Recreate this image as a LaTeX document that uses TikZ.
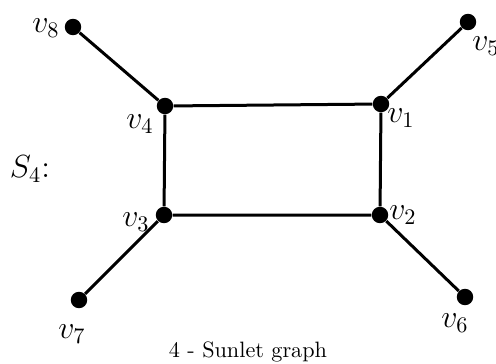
\documentclass[tikz,border=0pt]{standalone}
\begin{document}
\begin{tikzpicture}[x=0.45pt,y=-0.45pt,
  vtx/.style={circle,fill=black,inner sep=0pt,minimum size=7.4pt},
  lbl/.style={inner sep=0pt,font=\Large},
  edge/.style={line width=1.35pt}]
\useasboundingbox (0,0) rectangle (496,363);
\node[vtx] (v1) at (381,104) {};
\node[vtx] (v2) at (380,215) {};
\node[vtx] (v3) at (164,215) {};
\node[vtx] (v4) at (165,106) {};
\node[vtx] (v5) at (468,22) {};
\node[vtx] (v6) at (465,297) {};
\node[vtx] (v7) at (79,300) {};
\node[vtx] (v8) at (73,27) {};
\draw[edge] (v1) -- (v2) -- (v3) -- (v4) -- (v1);
\draw[edge] (v1) -- (v5);
\draw[edge] (v2) -- (v6);
\draw[edge] (v3) -- (v7);
\draw[edge] (v4) -- (v8);
\node[lbl] (l1) at (401,118) {$v_1$};
\node[lbl] (l2) at (403,215) {$v_2$};
\node[lbl] (l3) at (136,222) {$v_3$};
\node[lbl] (l4) at (140,124) {$v_4$};
\node[lbl] (l5) at (486,46) {$v_5$};
\node[lbl] (l6) at (455,323) {$v_6$};
\node[lbl] (l7) at (72,334) {$v_7$};
\node[lbl] (l8) at (46,28) {$v_8$};
\node[lbl] (s4) at (30,169) {$S_4$:};
\node[inner sep=0pt,anchor=base] (cap) at (248,357) {4 - Sunlet graph};
\end{tikzpicture}
\end{document}
